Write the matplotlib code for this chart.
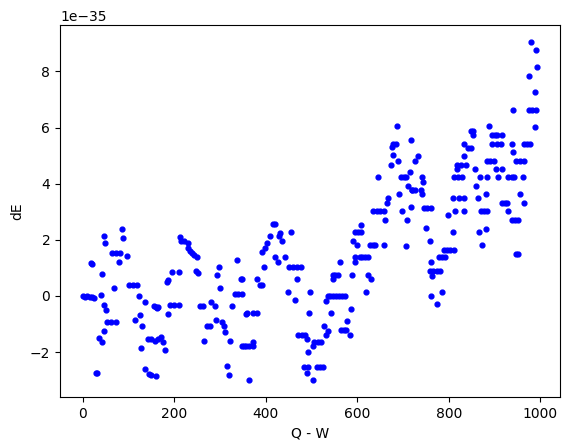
import matplotlib
matplotlib.use("Agg")
import matplotlib.pyplot as plt
import numpy as np

# Q - W values and dE (in units of 1e-35)
q_w = [
    0, 5, 10, 15, 20, 25, 18, 20, 29, 31, 36, 41, 42, 43, 46, 47, 47, 49, 51,
    52, 62, 64, 69, 72, 73, 80, 82, 85, 89, 96, 100, 110, 115, 119, 122, 126,
    128, 130, 135, 137, 142, 145, 150, 150, 155, 158, 161, 163, 165,
    159, 164, 170, 176, 179, 184, 186, 186, 190, 195, 200, 210, 210, 212, 215,
    222, 229, 230, 234, 238, 244, 247, 249, 251, 256, 262, 266, 272, 278, 280,
    288, 291, 293, 297, 299, 304, 308, 311, 316, 320, 321, 326, 333, 337, 340,
    346, 348, 348, 348, 352, 356, 357, 359, 363, 364, 372, 372, 372, 380, 381,
    388, 392, 392, 397, 398, 403, 410, 415, 420, 421, 427, 428, 432, 436, 442,
    449, 451, 456, 460, 464, 468, 468, 471, 476, 478, 484, 485, 490, 490, 493,
    493, 495, 497, 502, 502, 506, 511, 513, 518, 520, 524, 528, 531, 532, 535,
    535, 541, 543, 546, 546, 547, 552, 553, 557, 560, 563, 564, 566, 570, 573,
    575, 578, 583, 585, 588, 590, 594, 595, 595, 599, 601, 605, 608, 609, 611,
    617, 618, 623, 623, 628, 629, 634, 634, 639, 642, 644, 650, 658, 659, 661,
    664, 667, 673, 675, 678, 678, 685, 687, 688, 692, 696, 698, 702, 707, 707,
    709, 710, 714, 717, 717, 720, 720, 726, 726, 732, 739, 741, 742, 743, 745,
    750, 752, 759, 759, 760, 761, 761, 764, 766, 774, 775, 778, 781, 785, 785,
    789, 792, 796, 798, 803, 809, 809, 811, 811, 813, 817, 818, 819, 822, 826,
    828, 833, 833, 833, 834, 838, 841, 848, 848, 852, 853, 857, 860, 863, 866,
    868, 870, 873, 877, 880, 882, 883, 884, 884, 888, 890, 894, 895, 899, 900,
    902, 905, 905, 908, 914, 915, 916, 917, 922, 927, 929, 930, 937, 937, 938,
    939, 941, 943, 944, 946, 947, 950, 951, 955, 955, 961, 963, 963, 965, 970,
    974, 976, 977, 979, 982, 988, 988, 990, 991, 993,
]
de = [
    -0.02, -0.03, -0.02, -0.04, -0.05, -0.06, 1.17, 1.12, -2.76, -2.76, -1.49,
    0.02, -1.65, 0.78, -1.25, 2.15, -0.34, 1.9, -0.52,
    -0.92, -0.92, 1.52, 0.29, -0.92, 1.52, 1.2, 1.52, 2.39, 2.08, 1.42, 0.39,
    0.39, -0.85, 0.39, -0.01, -0.67,
    -1.87, -1.07, -2.62, -0.22, -1.52, -2.8, -1.55, -2.83, -0.35, -1.6, -0.4,
    -0.43, -1.55,
    -2.85, -0.41, -1.47, -1.65, -1.94, 0.5, 0.56, -0.64, -0.34, 0.85, -0.34,
    0.85, -0.34, 2.09, 1.94,
    1.94, 1.9, 1.7, 1.6, 1.52, 1.45, 0.9, 1.37, 0.82, -0.37, -0.37, -1.6,
    -1.06, -1.06, -0.22,
    -0.37, -0.85, 0.74, 1.04, 0.29, -0.92, -1.06, -1.3, -2.5, -2.83, -1.6,
    -0.37, 0.06, 1.28, 0.06,
    0.59, 0.06, 0.6, -1.8, -1.8, -1.8, -0.64, -0.62, -3.0, -1.8, -0.62, -1.8,
    -1.65, -0.62, 0.6,
    0.38, 0.38, 1.57, 1.03, 1.72, 1.9, 2.13, 2.55, 2.55, 1.37, 1.2, 2.13,
    2.25, 1.97, 1.37,
    0.14, 1.04, 2.28, 1.04, -0.16, 1.04, 0.6, -1.38, 1.04, -1.38, -2.55,
    -1.38, -1.53, -2.76, -2.55,
    -1.99, -0.62, 0.14, -1.8, -3.0, -1.65, -2.55, -1.65, -2.55, -1.65, -2.55,
    -1.06, -1.38, -0.17, -1.25,
    -0.01, -0.01, -0.62, 0.74, 0.6, 0.0, 0.74, 0.0, 0.74, 0.0, 1.22, -1.22,
    0.0, -1.22, 0.0,
    -1.22, -0.91, -1.38, -0.47, 0.74, 1.97, 1.37, 2.27, 1.22, 1.8, 2.27, 1.37,
    2.27, 2.54, 1.37,
    1.37, 0.14, 1.37, 0.74, 1.8, 0.6, 3.02, 1.8, 1.8, 3.02, 4.24, 3.02, 1.8,
    3.02, 2.72,
    3.3, 3.5, 4.68, 5.3, 5.03, 5.42, 5.42, 6.04, 4.82, 3.62, 4.24, 3.02, 4.24,
    4.24, 1.78,
    2.72, 3.92, 4.4, 3.18, 5.56, 3.78, 3.77, 4.82, 3.77, 5.0, 3.77, 4.24,
    3.62, 4.06, 3.14,
    2.42, 3.14, 1.97, 0.89, 3.14, 1.2, 0.0, 0.72, 0.89, 0.89, -0.3, 1.37,
    0.89, 1.37, 0.14,
    1.64, 1.37, 1.64, 2.87, 1.64, 3.48, 2.27, 1.64, 4.24, 3.02, 4.67, 4.52,
    4.24, 3.48, 4.67,
    4.24, 5.42, 3.48, 3.02, 5.0, 4.67, 5.27, 5.27, 5.86, 5.86, 5.74, 4.52,
    3.92, 3.48, 2.27,
    4.24, 3.02, 1.8, 3.02, 2.4, 3.62, 3.02, 4.24, 4.82, 6.04, 4.82, 5.74,
    5.42, 4.82, 5.74,
    4.53, 5.74, 5.42, 4.23, 5.42, 4.53, 3.3, 5.74, 3.3, 3.3, 3.02, 4.23,
    5.42, 4.23, 2.72,
    6.64, 5.13, 4.23, 2.72, 1.5, 4.82, 1.5, 2.72, 4.82, 3.62, 4.23, 5.42,
    4.82, 3.3, 5.42,
    6.64, 7.84, 5.42, 9.05, 6.64, 7.25, 6.02, 8.75, 6.64, 8.15,
]

x = np.array(q_w)
y = np.array(de) * 1e-35

fig = plt.figure(figsize=(5.65, 4.48), dpi=100)
ax = fig.add_axes([60 / 565, 1 - 397 / 448, 500 / 565, 372 / 448])
ax.scatter(x, y, color='b', s=12)
ax.set_xlabel('Q - W')
ax.set_ylabel('dE')
fig.savefig('out.png', dpi=100)
